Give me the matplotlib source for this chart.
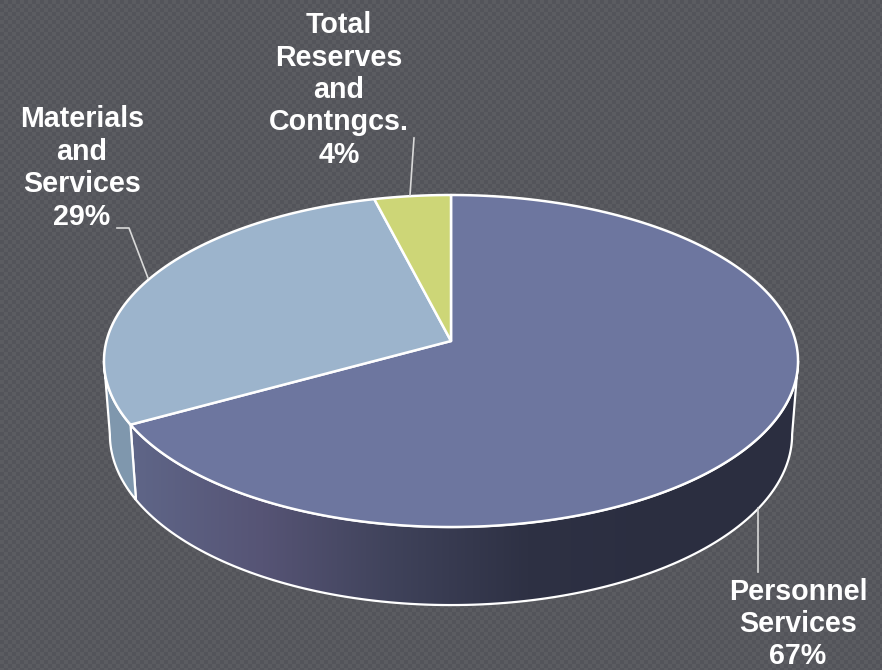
import numpy as np
import matplotlib
matplotlib.use("Agg")
from matplotlib import pyplot as plt
from matplotlib.patches import Polygon

# slices, clockwise from 12 o'clock
LABELS = ["Personnel\nServices", "Materials\nand\nServices", "Total\nReserves\nand\nContngcs."]
VALUES = [67, 29, 4]
TOP_COLORS = ["#6d769f", "#9cb4cc", "#cdd677"]

WIDTH, HEIGHT = 882, 670
CX, APEX_Y = 451, 341
HALF_W = 344.5   # half width of the top face at apex height
PERSP = 0.1205
DEPTH_Y = 163.6

plt.rcParams["font.family"] = ["Liberation Sans", "DejaVu Sans"]

fig = plt.figure(figsize=(WIDTH / 100, HEIGHT / 100), dpi=100)
ax = fig.add_axes([0, 0, 1, 1])
ax.set_xlim(0, WIDTH)
ax.set_ylim(HEIGHT, 0)
ax.axis("off")


def rim(deg):
    # top face outline, tilted disc seen with some perspective
    t = np.radians(deg)
    u, v = np.sin(t), np.cos(t)
    d = 1 + PERSP * v
    return np.column_stack((CX + HALF_W * u / d, APEX_Y - DEPTH_Y * v / d))


def bottom(pts):
    return np.column_stack((CX + (pts[:, 0] - CX) * 0.983, 434.4 + (pts[:, 1] - 361) * 1.028))


def wall(a0, a1):
    top = rim(np.linspace(a0, a1, 200))
    return np.vstack((top, bottom(top)[::-1]))


# textured backdrop
yy, xx = np.indices((HEIGHT, WIDTH))
cells = ((xx // 4) + (yy // 4)) % 2
ax.imshow(cells, cmap=matplotlib.colors.ListedColormap(["#53545a", "#5b5c61"]),
          extent=(0, WIDTH, HEIGHT, 0), aspect="auto", interpolation="nearest", zorder=0)

edges = np.cumsum([0] + VALUES) / sum(VALUES) * 360
silhouette = np.degrees(np.arccos(-PERSP))  # where the rim is widest

# side walls
shade = matplotlib.colors.LinearSegmentedColormap.from_list(
    "side", [(0, "#5f6688"), (0.25, "#565475"), (0.5, "#3f425a"), (0.75, "#2e3144"), (1, "#2b2e40")])
front = Polygon(wall(silhouette, edges[1]), closed=True, fc="none", ec="none")
ax.add_patch(front)
grad = ax.imshow(np.linspace(0, 1, 256)[None, :], cmap=shade, extent=(130, 660, 610, 360),
                 aspect="auto", zorder=1)
grad.set_clip_path(front)
grad_right = ax.imshow([[1, 1]], cmap=shade, vmin=0, vmax=1, extent=(660, 800, 610, 360),
                       aspect="auto", zorder=1)
grad_right.set_clip_path(front)
ax.add_patch(Polygon(wall(silhouette, edges[1]), closed=True, fc="none", ec="white", lw=1.6, zorder=2))
ax.add_patch(Polygon(wall(edges[1], 360 - silhouette), closed=True, fc="#7f97ad", ec="white", lw=1.6, zorder=2))

# top face
for i in range(len(VALUES)):
    pts = rim(np.linspace(edges[i], edges[i + 1], 300))
    pts = np.vstack(([[CX, APEX_Y]], pts))
    ax.add_patch(Polygon(pts, closed=True, fc=TOP_COLORS[i], ec="white", lw=1.8, joinstyle="round", zorder=3))

ax.set_xlim(0, WIDTH)
ax.set_ylim(HEIGHT, 0)

# leader lines
LEADER = "#d9d9d9"
ax.plot([758, 758], [508, 572], color=LEADER, lw=1.2, zorder=4)
ax.plot([117, 129, 148], [228, 228, 278], color=LEADER, lw=1.2, zorder=4)
ax.plot([414, 410], [138, 195], color=LEADER, lw=1.2, zorder=4)

# labels
LABEL_POS = [(798, 624), (82, 168), (339, 90)]
for name, val, (x, y) in zip(LABELS, VALUES, LABEL_POS):
    ax.text(x, y, "{}\n{}%".format(name, val), color="white", fontsize=20.6, fontweight="bold",
            ha="center", va="center", linespacing=1.2, zorder=5)

fig.savefig("out.png", dpi=100)
